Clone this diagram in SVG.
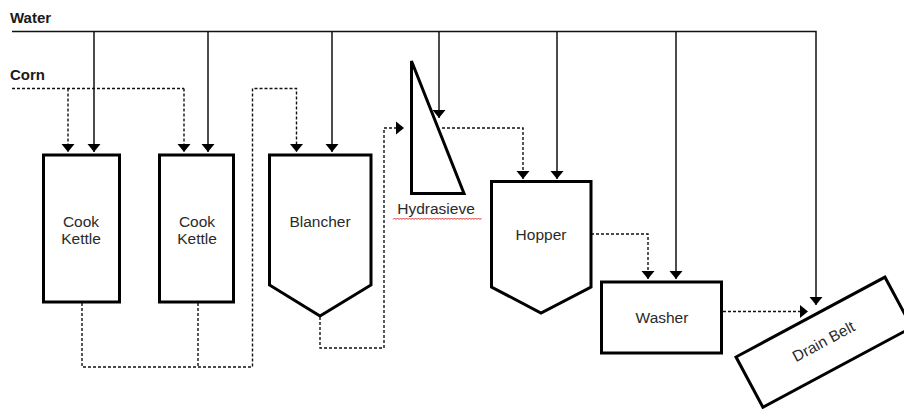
<svg xmlns="http://www.w3.org/2000/svg" width="904" height="409" viewBox="0 0 904 409">
<style>
.box{fill:#fff;stroke:#000;stroke-width:3;stroke-linejoin:miter}
.w{fill:none;stroke:#111;stroke-width:1.5}
.c{fill:none;stroke:#111;stroke-width:1.4;stroke-dasharray:3,2}
.lbl{font-family:"Liberation Sans",Arial,sans-serif;font-size:15.5px;fill:#2a2a2a;text-anchor:middle}
.head{font-family:"Liberation Sans",Arial,sans-serif;font-size:15px;font-weight:bold;fill:#1a1a1a}
</style>
<defs>
<marker id="a" markerUnits="userSpaceOnUse" markerWidth="14" markerHeight="14" refX="9" refY="7" orient="auto" viewBox="0 0 14 14">
<path d="M1,0.5 L9,7 L1,13.5 Z" fill="#000"/>
</marker>
</defs>
<g id="labels">
<text class="head" x="10" y="23">Water</text>
<text class="head" x="10" y="80">Corn</text>
</g>
<g id="connectors">
<path class="w" d="M12,31.5 H816 V305" marker-end="url(#a)"/>
<path class="w" d="M94,31.5 V152" marker-end="url(#a)"/>
<path class="w" d="M208,31.5 V152" marker-end="url(#a)"/>
<path class="w" d="M332,31.5 V152" marker-end="url(#a)"/>
<path class="w" d="M439,31.5 V118" marker-end="url(#a)"/>
<path class="w" d="M557,31.5 V179" marker-end="url(#a)"/>
<path class="w" d="M676,31.5 V279" marker-end="url(#a)"/>
<path class="c" d="M12,88.5 H184"/>
<path class="c" d="M68,88.5 V152" marker-end="url(#a)"/>
<path class="c" d="M184,88.5 V152" marker-end="url(#a)"/>
<path class="c" d="M82,303 V367 H252.5 V88.5 H296.5 V152" marker-end="url(#a)"/>
<path class="c" d="M198,303 V367"/>
<path class="c" d="M320,317 V348 H384 V128 H404" marker-end="url(#a)"/>
<path class="c" d="M442,128 H523 V179" marker-end="url(#a)"/>
<path class="c" d="M591,234 H648 V279" marker-end="url(#a)"/>
<path class="c" d="M723,311.5 H808" marker-end="url(#a)"/>
</g>
<g id="kettle1">
<rect class="box" x="43.5" y="155" width="76" height="147"/>
<text class="lbl" x="81" y="227">Cook</text>
<text class="lbl" x="81" y="244">Kettle</text>
</g>
<g id="kettle2">
<rect class="box" x="159.5" y="155" width="74" height="147"/>
<text class="lbl" x="197" y="227">Cook</text>
<text class="lbl" x="197" y="244">Kettle</text>
</g>
<g id="blancher">
<polygon class="box" points="269.5,155 371,155 371,285 320,316 269.5,285"/>
<text class="lbl" x="320" y="227">Blancher</text>
</g>
<g id="hydrasieve">
<polygon class="box" points="411.5,61 464,193.5 411.5,193.5"/>
<text class="lbl" x="436" y="214">Hydrasieve</text>
<path d="M393,219.5 l1.5,-1.5 l1.5,1.5 l1.5,-1.5 l1.5,1.5 l1.5,-1.5 l1.5,1.5 l1.5,-1.5 l1.5,1.5 l1.5,-1.5 l1.5,1.5 l1.5,-1.5 l1.5,1.5 l1.5,-1.5 l1.5,1.5 l1.5,-1.5 l1.5,1.5 l1.5,-1.5 l1.5,1.5 l1.5,-1.5 l1.5,1.5 l1.5,-1.5 l1.5,1.5 l1.5,-1.5 l1.5,1.5 l1.5,-1.5 l1.5,1.5 l1.5,-1.5 l1.5,1.5 l1.5,-1.5 l1.5,1.5 l1.5,-1.5 l1.5,1.5 l1.5,-1.5 l1.5,1.5 l1.5,-1.5 l1.5,1.5 l1.5,-1.5 l1.5,1.5 l1.5,-1.5 l1.5,1.5 l1.5,-1.5 l1.5,1.5 l1.5,-1.5 l1.5,1.5 l1.5,-1.5 l1.5,1.5 l1.5,-1.5 l1.5,1.5 l1.5,-1.5 l1.5,1.5 l1.5,-1.5 l1.5,1.5 l1.5,-1.5 l1.5,1.5 l1.5,-1.5 l1.5,1.5 l1.5,-1.5 l1.5,1.5 l1.5,-1.5" fill="none" stroke="#e03030" stroke-width="1"/>
</g>
<g id="hopper">
<polygon class="box" points="491.5,181.5 591,181.5 591,287 541,313 491.5,287"/>
<text class="lbl" x="541" y="240">Hopper</text>
</g>
<g id="washer">
<rect class="box" x="601.5" y="282" width="120" height="71"/>
<text class="lbl" x="662" y="323">Washer</text>
</g>
<g id="drainbelt" transform="translate(736,357) rotate(-28.2)">
<rect class="box" x="0" y="0" width="169" height="57"/>
<text class="lbl" x="84.5" y="33">Drain Belt</text>
</g>
</svg>
